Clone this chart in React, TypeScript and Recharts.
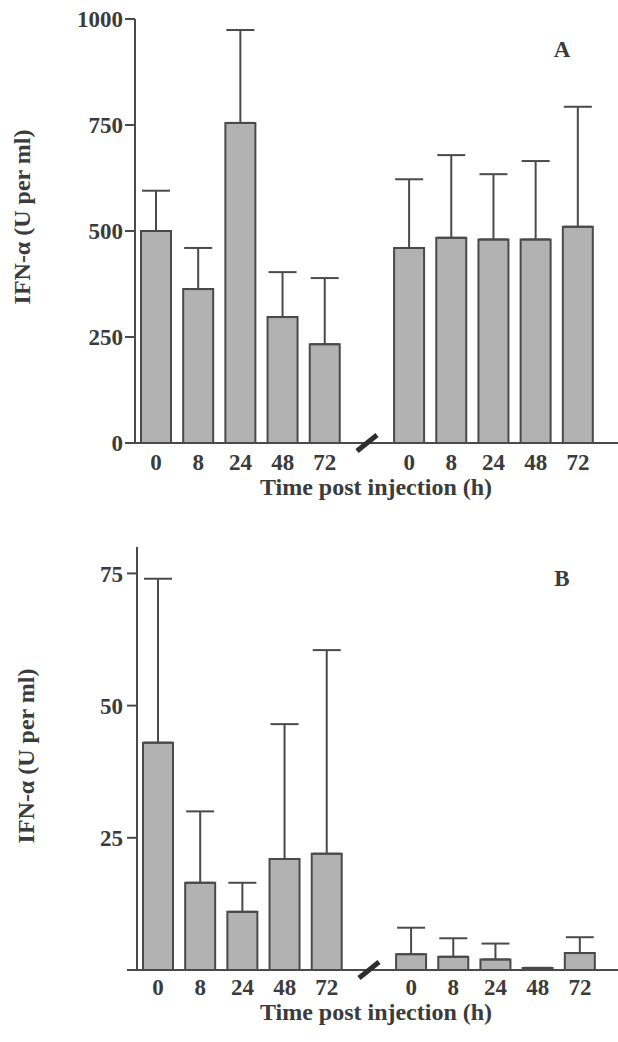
import React from "react";
import { Bar, BarChart, XAxis, YAxis, ErrorBar, ReferenceDot, Customized } from "recharts";

const hours = ["0", "8", "24", "48", "72"];

// panel A (U per ml)
const aBeforeMean = [500, 363, 755, 297, 233];
const aBeforeSd = [95, 97, 219, 106, 156];
const aAfterMean = [460, 484, 480, 480, 510];
const aAfterSd = [162, 195, 154, 185, 283];

// panel B (U per ml)
const bBeforeMean = [43, 16.5, 11, 21, 22];
const bBeforeSd = [31, 13.5, 5.5, 25.5, 38.5];
const bAfterMean = [3, 2.5, 2, 0.4, 3.2];
const bAfterSd = [5, 3.5, 3, 0, 3];

const aTicks = [0, 250, 500, 750, 1000];
const bTicks = [0, 25, 50, 75];

const INK = "#3b3b3b";
const FONT = "'Liberation Serif', 'Times New Roman', serif";

type Row = { slot: string; hour: string; mean: number; err: [number, number] };

function buildRows(meanL: number[], sdL: number[], meanR: number[], sdR: number[]): Row[] {
  const left = hours.map((h, i) => ({ slot: `L${i}`, hour: h, mean: meanL[i], err: [0, sdL[i]] as [number, number] }));
  const gap = { slot: "gap", hour: "", mean: 0, err: [0, 0] as [number, number] };
  const right = hours.map((h, i) => ({ slot: `R${i}`, hour: h, mean: meanR[i], err: [0, sdR[i]] as [number, number] }));
  return [...left, gap, ...right];
}

const rowsA = buildRows(aBeforeMean, aBeforeSd, aAfterMean, aAfterSd);
const rowsB = buildRows(bBeforeMean, bBeforeSd, bAfterMean, bAfterSd);

const BreakMark = (props: any) => {
  const { cx, cy } = props;
  if (cx == null || cy == null) return null;
  return <line x1={cx - 10} y1={cy + 8} x2={cx + 10} y2={cy - 8} stroke="#2e2e2e" strokeWidth={5} />;
};

const textStyle = { fontFamily: FONT, fontWeight: 700, fill: INK } as const;

function Panel({
  rows, ticks, domain, yWidth, top, plotH, height, padRight, letter, letterY, yLabelX, yLabelY, titleY, tickGap, hideZero,
}: {
  rows: Row[]; ticks: number[]; domain: [number, number]; yWidth: number; top: number; plotH: number; height: number;
  padRight: number; letter: string; letterY: number; yLabelX: number; yLabelY: number; titleY: number; tickGap: number;
  hideZero?: boolean;
}) {
  return (
    <BarChart width={618} height={height} data={rows} margin={{ top, right: 0, bottom: height - top - plotH - 30, left: 0 }}>
      <XAxis
        dataKey="slot"
        interval={0}
        tickLine={false}
        tickSize={0}
        tickMargin={tickGap}
        height={30}
        padding={{ left: 0, right: padRight }}
        axisLine={{ stroke: "#4a4a4a", strokeWidth: 2 }}
        tick={{ ...textStyle, fontSize: 23 }}
        tickFormatter={(v: string) => rows.find((r) => r.slot === v)?.hour ?? ""}
      />
      <YAxis
        width={yWidth}
        domain={domain}
        ticks={ticks}
        interval={0}
        tickSize={10}
        tickMargin={hideZero ? 4 : 2}
        axisLine={{ stroke: "#4a4a4a", strokeWidth: 2 }}
        tickLine={{ stroke: "#4a4a4a", strokeWidth: 2 }}
        tick={{ ...textStyle, fontSize: 23 }}
        tickFormatter={(v: number) => (hideZero && v === 0 ? "" : String(v))}
      />
      <Bar dataKey="mean" fill="#b2b2b2" stroke="#4a4a4a" strokeWidth={2} barSize={30} isAnimationActive={false}>
        <ErrorBar dataKey="err" direction="y" width={14} stroke="#4a4a4a" strokeWidth={2} isAnimationActive={false} />
      </Bar>
      <ReferenceDot x="gap" y={0} r={1} shape={BreakMark} />
      <Customized
        component={
          <g>
            <text x={562} y={letterY} textAnchor="middle" fontSize={23} {...textStyle}>{letter}</text>
            <text x={376} y={titleY} textAnchor="middle" fontSize={24} {...textStyle}>Time post injection (h)</text>
            <text
              x={yLabelX}
              y={yLabelY}
              textAnchor="middle"
              fontSize={24}
              transform={`rotate(-90 ${yLabelX} ${yLabelY})`}
              {...textStyle}
            >
              IFN-α (U per ml)
            </text>
          </g>
        }
      />
    </BarChart>
  );
}

export default function App() {
  return (
    <div style={{ position: "absolute", left: 0, top: 0, width: 618, height: 1042, background: "#fff" }}>
      <Panel rows={rowsA} ticks={aTicks} domain={[0, 1000]} yWidth={135} top={19} plotH={424} height={520} padRight={19}
        letter="A" letterY={57} yLabelX={30} yLabelY={217} titleY={495} tickGap={11} />
      <Panel rows={rowsB} ticks={bTicks} domain={[0, 80]} yWidth={137} top={27} plotH={423} height={522} padRight={17}
        letter="B" letterY={66} yLabelX={34} yLabelY={236} titleY={500} tickGap={9} hideZero />
    </div>
  );
}
